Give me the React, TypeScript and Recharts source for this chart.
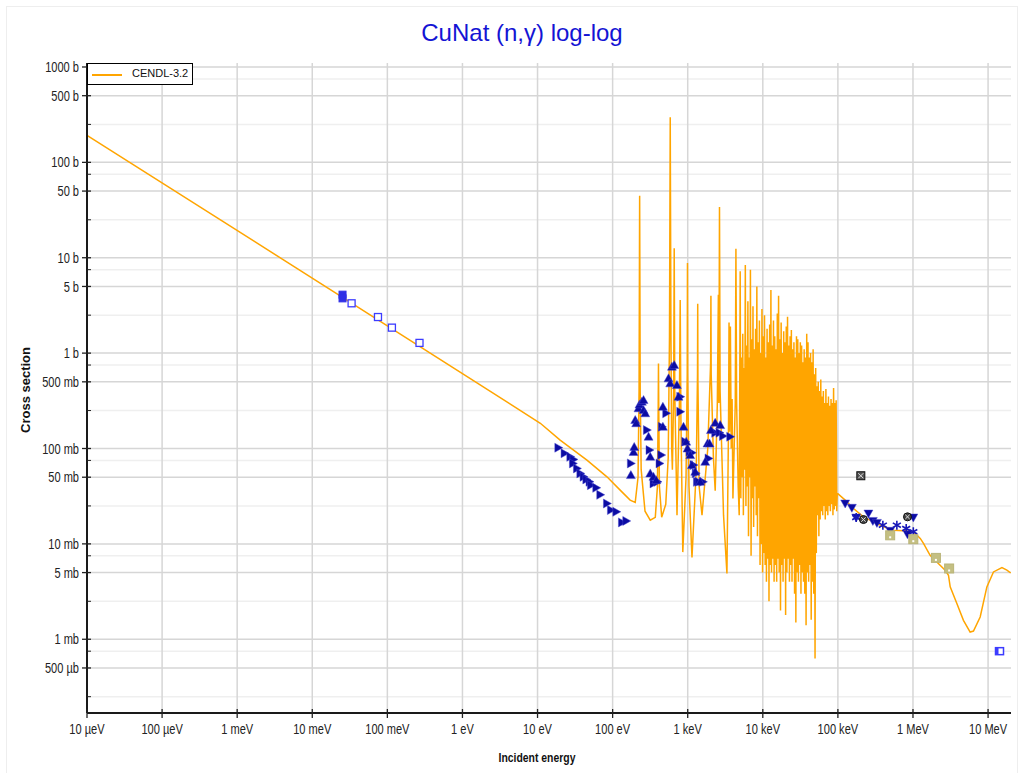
import React from 'react';
import { ComposedChart, Line, Scatter, XAxis, YAxis, CartesianGrid } from 'recharts';

// axis ticks
const xTicks = [1e-5, 1e-4, 1e-3, 1e-2, 0.1, 1, 10, 100, 1e3, 1e4, 1e5, 1e6, 1e7];
const xTickLabels = ['10 µeV', '100 µeV', '1 meV', '10 meV', '100 meV', '1 eV', '10 eV', '100 eV', '1 keV', '10 keV', '100 keV', '1 MeV', '10 MeV'];
const yMajorTicks = [5e-4, 1e-3, 5e-3, 0.01, 0.05, 0.1, 0.5, 1, 5, 10, 50, 100, 500, 1000];
const yMajorLabels = ['500 µb', '1 mb', '5 mb', '10 mb', '50 mb', '100 mb', '500 mb', '1 b', '5 b', '10 b', '50 b', '100 b', '500 b', '1000 b'];
const yMinorTicks = [2.5e-4, 7.5e-4, 2.5e-3, 7.5e-3, 0.025, 0.075, 0.25, 0.75, 2.5, 7.5, 25, 75, 250, 750];

// CENDL-3.2 evaluation, [energy eV, cross section b]
const cendl = [
  [1e-5, 192], [0.0253, 3.85], [1, 0.61], [10.9, 0.184], [20, 0.1225], [45.5, 0.0755], [84, 0.0505], [126, 0.0366], [171, 0.0288], [200, 0.0272],
  [218, 0.05], [225, 0.4], [229, 44.6], [233, 0.4], [240, 0.06], [270, 0.022], [317, 0.0177], [370, 0.019], [395, 0.04], [405, 0.3], [408, 0.78], [411, 0.3], [420, 0.04],
  [450, 0.019], [510, 0.026], [550, 0.08], [572, 1.5], [585, 298], [598, 1.5], [612, 0.1], [625, 0.06], [650, 0.4], [661, 12.6], [672, 0.4], [720, 0.02],
  [775, 0.3], [794, 3.6], [812, 0.2], [860, 0.0082], [950, 0.05], [985, 0.6], [993, 8.8], [1001, 0.6], [1040, 0.04], [1140, 0.0072], [1300, 0.06], [1350, 0.6],
  [1359, 3.3], [1368, 0.5], [1420, 0.04], [1550, 0.02], [1850, 0.1], [2020, 0.8], [2037, 4.0], [2055, 0.6], [2200, 0.08], [2323, 0.036], [2480, 0.3], [2560, 4.1],
  [2600, 0.3], [2650, 34], [2700, 0.4], [3000, 0.02], [3330, 0.0049], [3500, 0.2], [3550, 2.1], [3600, 0.15], [3700, 1.9], [3800, 0.1], [3900, 0.33], [4000, 0.03],
  [4300, 0.3], [4385, 12.4], [4480, 0.3], [4700, 0.04], [4850, 0.02],
  [5000, 7.2], [5100, 0.03], [5200, 0.9], [5300, 0.05], [5410, 1.6], [5510, 0.02], [5620, 0.7], [5730, 0.06], [5850, 8.4], [5960, 0.025], [6080, 1.2], [6200, 0.04],
  [6330, 3.5], [6450, 0.012], [6580, 0.9], [6710, 0.05], [6840, 7.5], [6980, 0.0075], [7120, 1.4], [7260, 0.03], [7400, 3.1], [7550, 0.015], [7700, 1.1], [7850, 0.04],
  [8010, 1.8], [8170, 0.02], [8330, 5.0], [8490, 0.012], [8660, 1.3], [8830, 0.03], [9010, 2.2], [9190, 0.006], [9370, 1.0], [9550, 0.01], [9740, 2.9], [9930, 0.005],
  [10130, 1.5], [10330, 0.008], [10540, 2.5], [10750, 0.006], [10960, 0.9], [11180, 0.004], [11400, 1.8], [11620, 0.007], [11850, 1.3], [12090, 0.0025], [12330, 2.0],
  [12570, 0.006], [12820, 4.6], [13070, 0.005], [13330, 1.2], [13600, 0.007], [13870, 2.2], [14140, 0.004], [14420, 1.5], [14710, 0.006], [15000, 1.1], [15300, 0.004],
  [15600, 2.6], [15910, 0.007], [16220, 4.0], [16540, 0.005], [16870, 1.4], [17210, 0.002], [17550, 2.1], [17900, 0.006], [18250, 1.0], [18610, 0.004], [18980, 1.7],
  [19360, 0.007], [19740, 1.3], [20130, 0.0018], [20530, 1.9], [20940, 0.005], [21350, 2.4], [21770, 0.007], [22200, 1.2], [22640, 0.004], [23090, 1.5], [23550, 0.006],
  [24010, 1.75], [24490, 0.004], [24980, 1.1], [25470, 0.007], [25970, 1.3], [26490, 0.003], [27010, 0.9], [27550, 0.0015], [28090, 1.5], [28650, 0.005], [29220, 1.4],
  [29800, 0.004], [30390, 1.0], [30990, 0.006], [31600, 1.3], [32230, 0.003], [32870, 1.2], [33520, 0.005], [34180, 0.8], [34860, 0.004], [35550, 1.1], [36260, 0.003],
  [36970, 0.9], [37700, 0.0014], [38450, 1.6], [39210, 0.005], [39990, 1.3], [40780, 0.004], [41590, 0.9], [42410, 0.006], [43250, 1.0], [44110, 0.0016], [44980, 0.8],
  [45870, 0.004], [46780, 1.1], [47710, 0.003], [48650, 0.6], [49620, 0.00063], [50600, 0.7], [51600, 0.008], [52620, 0.45], [53670, 0.02], [54730, 0.5], [55810, 0.012],
  [56920, 0.4], [58050, 0.018], [59190, 0.53], [60370, 0.022], [61560, 0.35], [62780, 0.02], [64020, 0.4], [65290, 0.025], [66590, 0.3], [67910, 0.018], [69250, 0.42],
  [70620, 0.022], [72020, 0.3], [73450, 0.02], [74900, 0.35], [76390, 0.025], [77900, 0.28], [79440, 0.022], [81010, 0.33], [82620, 0.026], [84250, 0.3], [85920, 0.02],
  [87620, 0.43], [89360, 0.023], [91130, 0.3], [92930, 0.025], [94770, 0.32], [96500, 0.022], [98000, 0.034],
  [1.25e5, 0.0288], [1.61e5, 0.0235], [2.19e5, 0.0192], [2.98e5, 0.017], [4.05e5, 0.0151], [5.5e5, 0.0139], [7.47e5, 0.0137], [1.01e6, 0.0134], [1.25e6, 0.0114],
  [1.38e6, 0.0101], [1.69e6, 0.0076], [2.08e6, 0.00647], [2.68e6, 0.0053], [2.97e6, 0.00469], [3.13e6, 0.00354], [3.84e6, 0.00237], [4.7e6, 0.00158], [5.77e6, 0.00119],
  [6.39e6, 0.00122], [7.85e6, 0.00171], [9.64e6, 0.00354], [1.18e7, 0.00508], [1.53e7, 0.00565], [1.78e7, 0.0053], [2.0e7, 0.00497],
];

// EXFOR measurements
const thermalOpen = [[0.0334, 3.33], [0.075, 2.39], [0.115, 1.85], [0.268, 1.28]];
const thermalFilled = [[0.0253, 4.1], [0.0253, 3.75]];
const fastSquare = [[1.42e7, 7.5e-4]];
const upTri = [
  [175, 0.0526], [190, 0.092], [194, 0.104], [200, 0.199], [206, 0.184], [221, 0.264], [228, 0.29], [245, 0.309], [258, 0.322], [258, 0.253], [272, 0.234],
  [301, 0.133], [317, 0.082], [317, 0.0548], [350, 0.0505], [381, 0.0466], [467, 0.274], [467, 0.169], [555, 0.544], [585, 0.482], [616, 0.72], [661, 0.751],
  [718, 0.463], [754, 0.349], [879, 0.169], [955, 0.118], [994, 0.1], [1080, 0.0853], [1137, 0.067], [1259, 0.057], [1467, 0.0447], [1710, 0.0725], [1835, 0.113],
  [1952, 0.113], [2037, 0.156], [2323, 0.186], [2709, 0.176],
];
const rightTri = [
  [18.9, 0.102], [22.9, 0.0889], [27.3, 0.0818], [30.1, 0.0769], [29.6, 0.0698], [33.5, 0.0618], [37.1, 0.0548], [41, 0.0505], [44.6, 0.0474], [49.2, 0.0448],
  [51.4, 0.0413], [60.5, 0.0387], [68.4, 0.0327], [84, 0.0265], [94.9, 0.0226], [112, 0.0217], [133, 0.0168], [152, 0.0174],
  [175, 0.0698], [286, 0.156], [310, 0.0962], [350, 0.043], [396, 0.0447], [421, 0.0698], [444, 0.0853], [453, 0.169], [517, 0.234], [795, 0.349], [795, 0.243],
  [926, 0.118], [1057, 0.0924], [1137, 0.0902], [1195, 0.067], [1280, 0.055], [1327, 0.0447], [1393, 0.0447], [1594, 0.0447], [1892, 0.0787], [2323, 0.146],
  [2650, 0.146], [2943, 0.135], [3681, 0.133],
];
const downTri = [[1.25e5, 0.0265], [1.535e5, 0.0239], [1.753e5, 0.0189], [2.55e5, 0.0208], [2.92e5, 0.0174], [3.31e5, 0.0166], [4.97e5, 0.0137], [8.45e5, 0.0126], [1.01e6, 0.0189]];
const asterisks = [[1.753e5, 0.0189], [3.97e5, 0.0157], [6.1e5, 0.0157], [8.12e5, 0.0145], [1.01e6, 0.0134]];
const circledX = [[2.19e5, 0.018], [8.45e5, 0.0192]];
const boxedX = [[2.02e5, 0.0518]];
const oliveSquares = [[4.97e5, 0.0123], [1.01e6, 0.0112], [2.02e6, 0.00713], [3.03e6, 0.00552]];

const pts = (a: number[][]) => a.map(([e, s]) => ({ e, s }));

const NAVY = '#0c0ca3';
const TICK_FONT = "'Liberation Sans', Arial, sans-serif";

const LeftTick = (props: any) => {
  const { x, y, payload } = props;
  const i = yMajorTicks.indexOf(payload.value);
  if (i < 0) return <line x1={x} x2={x + 4} y1={y} y2={y} stroke="#222" />;
  return (
    <g>
      <line x1={x - 5} x2={x + 4} y1={y} y2={y} stroke="#222" strokeWidth={1.3} />
      <text transform={`translate(${x - 8},${y}) scale(0.79,1)`} dy="0.36em" textAnchor="end" fontSize={14} fill="#222" fontFamily={TICK_FONT}>
        {yMajorLabels[i]}
      </text>
    </g>
  );
};

const RightTick = (props: any) => {
  const { x, y } = props;
  return <line x1={x - 5} x2={x} y1={y} y2={y} stroke="#222" strokeWidth={1.3} />;
};

const BottomTick = (props: any) => {
  const { x, y, payload } = props;
  const i = xTicks.indexOf(payload.value);
  return (
    <g>
      <line x1={x} x2={x} y1={y - 4} y2={y + 5} stroke="#222" strokeWidth={1.3} />
      <text transform={`translate(${x},${y + 21}) scale(0.79,1)`} textAnchor="middle" fontSize={14} fill="#222" fontFamily={TICK_FONT}>
        {xTickLabels[i]}
      </text>
    </g>
  );
};

const UpTri = ({ cx, cy }: any) => (
  <polygon points={`${cx},${cy - 4.5} ${cx - 4.5},${cy + 3.5} ${cx + 4.5},${cy + 3.5}`} fill={NAVY} stroke="rgba(70,70,210,0.45)" strokeWidth={1} />
);
const RightTri = ({ cx, cy }: any) => (
  <polygon points={`${cx + 4.5},${cy} ${cx - 3.5},${cy - 4.5} ${cx - 3.5},${cy + 4.5}`} fill={NAVY} stroke="rgba(70,70,210,0.45)" strokeWidth={1} />
);
const DownTri = ({ cx, cy }: any) => (
  <polygon points={`${cx},${cy + 4.5} ${cx - 4.5},${cy - 3.5} ${cx + 4.5},${cy - 3.5}`} fill={NAVY} stroke="rgba(70,70,210,0.45)" strokeWidth={1} />
);
const Asterisk = ({ cx, cy }: any) => (
  <g stroke="#1818b8" strokeWidth={1.6}>
    <line x1={cx} x2={cx} y1={cy - 4.5} y2={cy + 4.5} />
    <line x1={cx - 4} x2={cx + 4} y1={cy - 2.3} y2={cy + 2.3} />
    <line x1={cx - 4} x2={cx + 4} y1={cy + 2.3} y2={cy - 2.3} />
  </g>
);
const CircleX = ({ cx, cy }: any) => (
  <g>
    <circle cx={cx} cy={cy} r={4} fill="#444" stroke="#111" strokeWidth={1} />
    <line x1={cx - 2.2} x2={cx + 2.2} y1={cy - 2.2} y2={cy + 2.2} stroke="#ddd" strokeWidth={1} />
    <line x1={cx - 2.2} x2={cx + 2.2} y1={cy + 2.2} y2={cy - 2.2} stroke="#ddd" strokeWidth={1} />
  </g>
);
const BoxX = ({ cx, cy }: any) => (
  <g>
    <rect x={cx - 4} y={cy - 4} width={8} height={8} fill="#555" stroke="#111" strokeWidth={1} />
    <line x1={cx - 2.5} x2={cx + 2.5} y1={cy - 2.5} y2={cy + 2.5} stroke="#ddd" strokeWidth={1} />
    <line x1={cx - 2.5} x2={cx + 2.5} y1={cy + 2.5} y2={cy - 2.5} stroke="#ddd" strokeWidth={1} />
  </g>
);
const OpenSquare = ({ cx, cy }: any) => (
  <rect x={cx - 3.5} y={cy - 3.5} width={7} height={7} fill="#fff" stroke="#3c3cff" strokeWidth={1.3} />
);
const FilledSquare = ({ cx, cy }: any) => (
  <rect x={cx - 3.5} y={cy - 3.5} width={7} height={7} fill="#3030e6" stroke="#3030e6" strokeWidth={1} />
);
const HalfSquare = ({ cx, cy }: any) => (
  <g>
    <rect x={cx - 4} y={cy - 3.5} width={8} height={7} fill="#fff" stroke="#3c3cff" strokeWidth={1.5} />
    <rect x={cx - 4} y={cy - 3.5} width={3} height={7} fill="#3c3cff" />
  </g>
);
const OliveSquare = ({ cx, cy }: any) => (
  <g>
    <rect x={cx - 4.5} y={cy - 4.5} width={9} height={9} fill="#c4bf82" stroke="#b9b478" strokeWidth={1} />
    <rect x={cx - 1} y={cy + 1} width={2} height={2} fill="#fff" />
  </g>
);

export default function App() {
  const dom: [number, number] = [1.686e-4, 1101];
  return (
    <div style={{ position: 'absolute', left: 0, top: 0, width: 1024, height: 773, background: '#fff', fontFamily: TICK_FONT }}>
      <div style={{ position: 'absolute', left: 6, top: 6, width: 1012, height: 770, border: '1px solid #eeeeee', boxSizing: 'border-box' }} />
      <div style={{ position: 'absolute', left: 522, top: 33, transform: 'translate(-50%,-50%)', fontSize: 24, color: '#1414d4', whiteSpace: 'nowrap' }}>
        CuNat (n,γ) log-log
      </div>
      <div style={{ position: 'absolute', left: 25, top: 390, transform: 'translate(-50%,-50%) rotate(-90deg)', fontSize: 13, fontWeight: 'bold', color: '#111', whiteSpace: 'nowrap' }}>
        Cross section
      </div>
      <div style={{ position: 'absolute', left: 537, top: 757, transform: 'translate(-50%,-50%) scale(0.8,1)', fontSize: 13, fontWeight: 'bold', color: '#111', whiteSpace: 'nowrap' }}>
        Incident energy
      </div>
      <ComposedChart width={1024} height={773} margin={{ top: 63, right: 13, bottom: 10, left: 7 }} style={{ position: 'absolute', left: 0, top: 0 }}>
        <XAxis xAxisId="b" dataKey="e" type="number" scale="log" domain={[1e-5, 2.02e7]} allowDataOverflow ticks={xTicks} interval={0}
          tick={<BottomTick />} tickLine={false} tickSize={0} tickMargin={0} height={50} axisLine={{ stroke: '#1a1a1a', strokeWidth: 2 }} />
        <XAxis xAxisId="t" orientation="top" dataKey="e" type="number" scale="log" domain={[1e-5, 2.02e7]} allowDataOverflow height={0}
          tick={false} tickLine={false} axisLine={{ stroke: '#555', strokeWidth: 1 }} />
        <YAxis yAxisId="l" type="number" scale="log" domain={dom} allowDataOverflow ticks={[...yMinorTicks, ...yMajorTicks]} interval={0}
          tick={<LeftTick />} tickLine={false} tickSize={0} tickMargin={0} width={80} axisLine={{ stroke: '#1a1a1a', strokeWidth: 2 }} />
        <YAxis yAxisId="r" orientation="right" type="number" scale="log" domain={dom} allowDataOverflow ticks={[...yMinorTicks, ...yMajorTicks]} interval={0}
          tick={<RightTick />} tickLine={false} tickSize={0} tickMargin={0} width={0} axisLine={{ stroke: '#1a1a1a', strokeWidth: 2 }} />
        <CartesianGrid xAxisId="b" yAxisId="l" horizontalValues={yMinorTicks} vertical={false} stroke="#efefef" strokeWidth={1.5} />
        <CartesianGrid xAxisId="b" yAxisId="l" horizontalValues={yMajorTicks} verticalValues={xTicks} stroke="#d6d6d6" strokeWidth={1.5} />
        <Scatter xAxisId="b" yAxisId="l" data={pts(rightTri)} dataKey="s" shape={RightTri} isAnimationActive={false} />
        <Scatter xAxisId="b" yAxisId="l" data={pts(upTri)} dataKey="s" shape={UpTri} isAnimationActive={false} />
        <Scatter xAxisId="b" yAxisId="l" data={pts(downTri)} dataKey="s" shape={DownTri} isAnimationActive={false} />
        <Scatter xAxisId="b" yAxisId="l" data={pts(asterisks)} dataKey="s" shape={Asterisk} isAnimationActive={false} />
        <Scatter xAxisId="b" yAxisId="l" data={pts(circledX)} dataKey="s" shape={CircleX} isAnimationActive={false} />
        <Scatter xAxisId="b" yAxisId="l" data={pts(boxedX)} dataKey="s" shape={BoxX} isAnimationActive={false} />
        <Scatter xAxisId="b" yAxisId="l" data={pts(oliveSquares)} dataKey="s" shape={OliveSquare} isAnimationActive={false} />
        <Scatter xAxisId="b" yAxisId="l" data={pts(thermalFilled)} dataKey="s" shape={FilledSquare} isAnimationActive={false} />
        <Scatter xAxisId="b" yAxisId="l" data={pts(thermalOpen)} dataKey="s" shape={OpenSquare} isAnimationActive={false} />
        <Scatter xAxisId="b" yAxisId="l" data={pts(fastSquare)} dataKey="s" shape={HalfSquare} isAnimationActive={false} />
        <Line xAxisId="b" yAxisId="l" data={pts(cendl)} dataKey="s" type="linear" stroke="#ffa500" strokeWidth={1.5} dot={false} activeDot={false} isAnimationActive={false} />
      </ComposedChart>
      <div style={{ position: 'absolute', left: 87, top: 63, width: 106, height: 22, border: '1px solid #000', background: '#fff', boxSizing: 'border-box' }}>
        <div style={{ position: 'absolute', left: 4, top: 10, width: 30, height: 2, background: '#ffa500' }} />
        <div style={{ position: 'absolute', left: 44, top: 3, fontSize: 11, color: '#111', whiteSpace: 'nowrap' }}>CENDL-3.2</div>
      </div>
    </div>
  );
}
